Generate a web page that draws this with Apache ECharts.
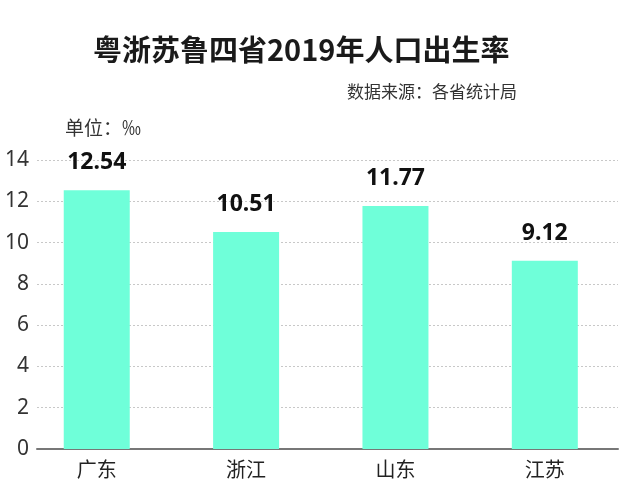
<!DOCTYPE html>
<html>
<head>
<meta charset="utf-8">
<script src="https://cdn.jsdelivr.net/npm/echarts@6/dist/echarts.min.js"></script>
<style>html,body{margin:0;padding:0;background:#fff;}#c{width:640px;height:502px;}</style>
</head>
<body>
<div id="c"></div>
<script>
const categories = ['广东', '浙江', '山东', '江苏'];
const birthRates = [12.54, 10.51, 11.77, 9.12];
const yTicks = [0, 2, 4, 6, 8, 10, 12, 14];
const titleText = '粤浙苏鲁四省2019年人口出生率';
const sourceText = '数据来源：各省统计局';
const unitText = '单位：‰';

const cjk = "'Noto Sans CJK SC', 'Noto Sans', sans-serif";
const chart = echarts.init(document.getElementById('c'), null, {renderer: 'canvas'});
chart.setOption({
  backgroundColor: '#fff',
  animation: false,
  title: [
    {text: titleText, left: 88, top: 30, textStyle: {fontFamily: cjk, fontSize: 29, fontWeight: 'bold', color: '#1a1a1a'}},
    {text: sourceText, right: 118, top: 78, textStyle: {fontFamily: cjk, fontSize: 17, fontWeight: 'normal', color: '#333'}},
    {text: unitText, left: 60, top: 113, textStyle: {fontFamily: cjk, fontSize: 19, fontWeight: 'normal', color: '#333'}}
  ],
  grid: {left: 37, right: 22, top: 160, bottom: 53},
  xAxis: {
    type: 'value', min: -0.4, max: 3.49,
    splitLine: {show: false},
    axisTick: {show: false},
    axisLine: {show: true, lineStyle: {color: '#777', width: 2}},
    axisLabel: {
      customValues: categories.map((c, i) => i),
      formatter: v => categories[Math.round(v)] || '',
      fontFamily: cjk, fontSize: 20, color: '#222', margin: 10
    }
  },
  yAxis: {
    type: 'value', min: yTicks[0], max: yTicks[yTicks.length - 1], interval: 2,
    axisLine: {show: false}, axisTick: {show: false},
    splitLine: {lineStyle: {color: '#c8c8c8', type: [2, 2], width: 1}},
    axisLabel: {fontFamily: "'Noto Sans', sans-serif", fontSize: 21, color: '#333', margin: 8}
  },
  series: [{
    type: 'bar',
    barWidth: 66,
    data: birthRates.map((v, i) => [i, v]),
    itemStyle: {color: '#6fffd9'},
    label: {
      show: true, position: 'top', distance: 16,
      formatter: p => p.value[1].toFixed(2),
      fontFamily: "'Noto Sans', sans-serif",
      fontWeight: 'bold', fontSize: 23, color: '#111'
    }
  }]
});
</script>
</body>
</html>
